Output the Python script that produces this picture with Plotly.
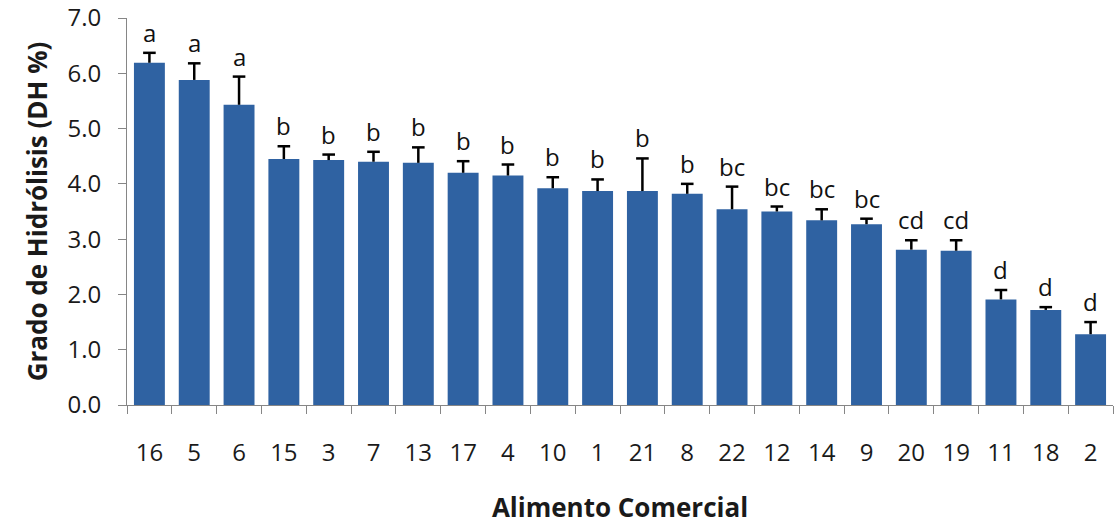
import plotly.graph_objects as go

# Grado de hidrólisis por alimento comercial (media + desviación)
alimentos = ["16", "5", "6", "15", "3", "7", "13", "17", "4", "10", "1",
             "21", "8", "22", "12", "14", "9", "20", "19", "11", "18", "2"]
dh_media = [6.19, 5.88, 5.43, 4.45, 4.43, 4.40, 4.38, 4.20, 4.15, 3.92, 3.87,
            3.87, 3.82, 3.54, 3.50, 3.34, 3.27, 2.81, 2.79, 1.91, 1.72, 1.28]
dh_error = [0.18, 0.30, 0.51, 0.23, 0.10, 0.18, 0.28, 0.21, 0.20, 0.20, 0.21,
            0.59, 0.18, 0.41, 0.09, 0.20, 0.10, 0.17, 0.19, 0.17, 0.05, 0.22]
letras = ["a", "a", "a", "b", "b", "b", "b", "b", "b", "b", "b",
          "b", "b", "bc", "bc", "bc", "bc", "cd", "cd", "d", "d", "d"]

FONT = "Open Sans"
tope = [m + e for m, e in zip(dh_media, dh_error)]

fig = go.Figure()
# barras con la línea de error solo hacia arriba (sin remate inferior)
fig.add_trace(go.Bar(
    x=alimentos,
    y=dh_media,
    marker=dict(color="#2F62A2", line=dict(width=0)),
    width=0.69,
    error_y=dict(type="data", array=dh_error,
                 arrayminus=[0] * len(dh_error), symmetric=False,
                 color="black", thickness=2.5, width=0),
))
# remate superior de cada barra de error
fig.add_trace(go.Scatter(
    x=alimentos, y=tope, mode="markers",
    marker=dict(symbol="line-ew-open", size=9, color="black",
                line=dict(color="black", width=2.5)),
    hoverinfo="skip",
))

for i, (v, t) in enumerate(zip(tope, letras)):
    fig.add_annotation(x=i, y=v, text=t, showarrow=False,
                       yanchor="bottom", yshift=2,
                       font=dict(family=FONT, size=24, color="#111111"))

fig.update_layout(
    width=1115, height=525,
    margin=dict(l=127, r=2, t=18, b=120),
    paper_bgcolor="white", plot_bgcolor="white",
    showlegend=False,
    bargap=0.31,
    font=dict(family=FONT, size=24, color="#1a1a1a"),
)
fig.update_xaxes(
    type="category", automargin=False,
    range=[-0.5, len(alimentos) - 0.5],
    showline=True, linecolor="#868686", linewidth=1,
    ticks="outside", tickson="boundaries", ticklen=8, tickcolor="#868686",
    tickfont=dict(family=FONT, size=24), ticklabelstandoff=26,
    showgrid=False,
    title=dict(text="<b>Alimento Comercial</b>", standoff=36,
               font=dict(family=FONT, size=26)),
)
fig.update_yaxes(
    range=[0, 7.0], dtick=1.0, tickformat=".1f", automargin=False,
    showline=True, linecolor="#868686", linewidth=1,
    ticks="outside", ticklen=8, tickcolor="#868686",
    tickfont=dict(family=FONT, size=24), ticklabelstandoff=12,
    showgrid=False, zeroline=False,
    title=dict(text="<b>Grado de Hidrólisis (DH %)</b>", standoff=12,
               font=dict(family=FONT, size=26)),
)

fig.write_html("out.html")
